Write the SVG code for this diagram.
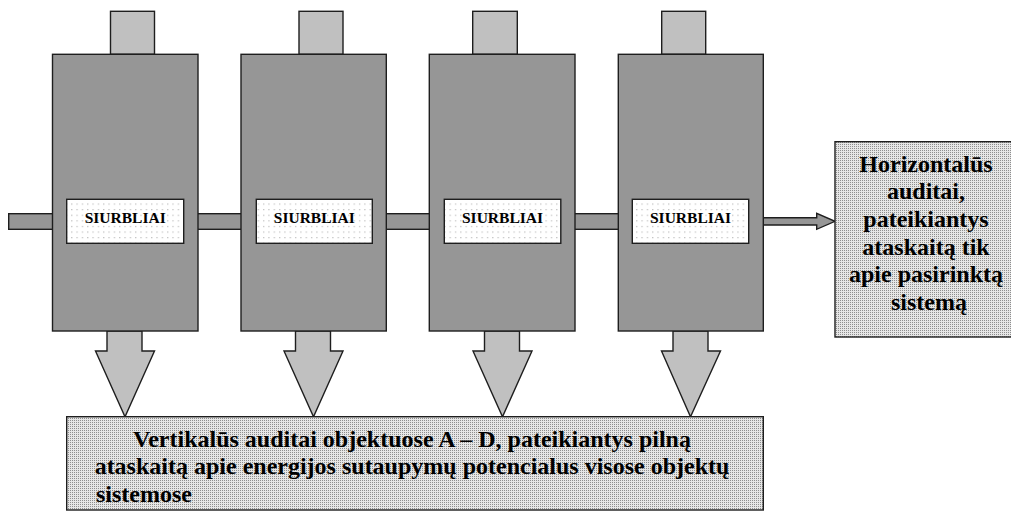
<svg xmlns="http://www.w3.org/2000/svg" width="1011" height="514" viewBox="0 0 1011 514">
<defs>
<pattern id="sparse" width="5.33" height="5.6" patternUnits="userSpaceOnUse">
<rect width="5.33" height="5.6" fill="#ffffff"/>
<rect x="2" y="2" width="1" height="1" fill="#a0a0a0"/>
</pattern>
<pattern id="dense" width="2" height="2" patternUnits="userSpaceOnUse">
<rect width="2" height="2" fill="#e6e6e6"/>
<rect x="0" y="0" width="1" height="1" fill="#8e8e8e"/>
</pattern>
</defs>
<style>
.body{fill:#969696;stroke:#1e1e1e;stroke-width:1.4}
.tab{fill:#c0c0c0;stroke:#1e1e1e;stroke-width:1.4}
.label{fill:url(#sparse);stroke:#1e1e1e;stroke-width:1.4}
.pipe{fill:#969696;stroke:#1e1e1e;stroke-width:1.4}
.down{fill:#c0c0c0;stroke:#1e1e1e;stroke-width:1.4;stroke-linejoin:miter}
.info{fill:url(#dense);stroke:#1e1e1e;stroke-width:1.4}
.t{font-weight:bold;fill:#000}
.small{font-size:15.5px}
.big{font-size:24px}
</style>
<rect width="1011" height="514" fill="#ffffff"/>
<g id="connectors">
<rect class="pipe" x="8.7" y="213.7" width="745" height="15.6"/>
<polygon class="down" points="107,331 142,331 142,351 154.5,351 125,416.7 95.5,351 107,351"/>
<polygon class="down" points="295.5,331 330.5,331 330.5,351 343,351 313.5,416.7 284,351 295.5,351"/>
<polygon class="down" points="484.5,331 519.5,331 519.5,351 532,351 502.5,416.7 473,351 484.5,351"/>
<polygon class="down" points="673,331 708,331 708,351 720.5,351 690.5,416.7 661.5,351 673,351"/>
<polygon class="down" points="762.3,217.7 816.7,217.7 816.7,213.3 835,221.3 816.7,229.3 816.7,225 762.3,225" style="fill:#969696"/>
</g>
<g id="pump-a">
<rect class="tab" x="110.5" y="11.3" width="44" height="43"/>
<rect class="body" x="52.5" y="54.3" width="145.5" height="276.7"/>
<rect class="label" x="66.7" y="199.3" width="117" height="44"/>
<text class="t small" font-family="'Liberation Serif', 'Times New Roman', serif" x="125.2" y="223.3" text-anchor="middle">SIURBLIAI</text>
</g>
<g id="pump-b">
<rect class="tab" x="299" y="11.3" width="44" height="43"/>
<rect class="body" x="241" y="54.3" width="145.3" height="276.7"/>
<rect class="label" x="256.3" y="199.3" width="116" height="44"/>
<text class="t small" font-family="'Liberation Serif', 'Times New Roman', serif" x="314.3" y="223.3" text-anchor="middle">SIURBLIAI</text>
</g>
<g id="pump-c">
<rect class="tab" x="472.7" y="11.3" width="44.6" height="43"/>
<rect class="body" x="429.3" y="54.3" width="145.7" height="276.7"/>
<rect class="label" x="444.3" y="199.3" width="116.5" height="44"/>
<text class="t small" font-family="'Liberation Serif', 'Times New Roman', serif" x="502.5" y="223.3" text-anchor="middle">SIURBLIAI</text>
</g>
<g id="pump-d">
<rect class="tab" x="661.7" y="11.3" width="44" height="43"/>
<rect class="body" x="618.3" y="54.3" width="145" height="276.7"/>
<rect class="label" x="632.3" y="199.3" width="116.4" height="44"/>
<text class="t small" font-family="'Liberation Serif', 'Times New Roman', serif" x="690.5" y="223.3" text-anchor="middle">SIURBLIAI</text>
</g>
<g id="horizontal-audit">
<rect class="info" x="835" y="141.7" width="186" height="195.3"/>
<text class="t big" font-family="'Liberation Serif', 'Times New Roman', serif" text-anchor="middle">
<tspan x="929" y="171.7">Horizontalūs</tspan>
<tspan x="929" y="199.3">auditai,</tspan>
<tspan x="929" y="226.9">pateikiantys</tspan>
<tspan x="929" y="254.5">ataskaitą tik</tspan>
<tspan x="929" y="282.1">apie pasirinktą</tspan>
<tspan x="929" y="309.7">sistemą</tspan>
</text>
</g>
<g id="vertical-audit">
<rect class="info" x="66.7" y="416.7" width="696.6" height="93.3"/>
<text class="t big" font-family="'Liberation Serif', 'Times New Roman', serif">
<tspan x="415" y="446.7" text-anchor="middle">Vertikalūs auditai objektuose A – D, pateikiantys pilną</tspan>
<tspan x="415" y="474.3" text-anchor="middle">ataskaitą apie energijos sutaupymų potencialus visose objektų</tspan>
<tspan x="96" y="501.9">sistemose</tspan>
</text>
</g>
</svg>
